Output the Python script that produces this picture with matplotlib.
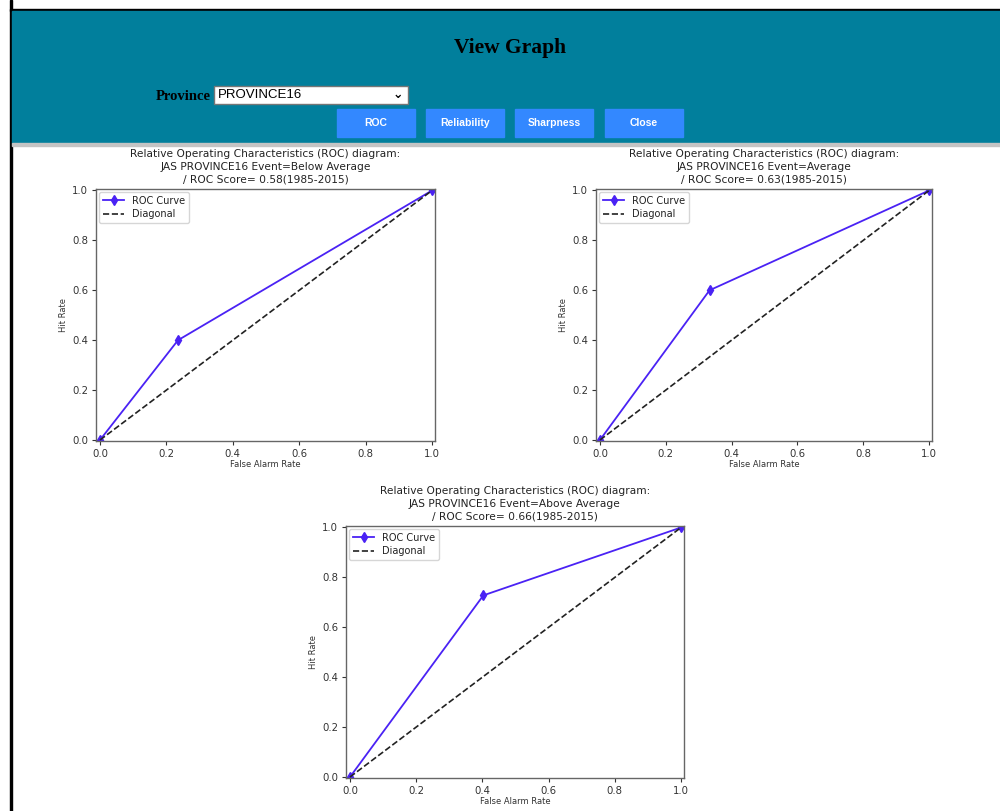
import matplotlib
matplotlib.use("Agg")
import matplotlib.pyplot as plt
from matplotlib.patches import Rectangle

# ROC points
far_below = [0.0, 0.235, 1.0]
hit_below = [0.0, 0.40, 1.0]
far_avg = [0.0, 0.333, 1.0]
hit_avg = [0.0, 0.60, 1.0]
far_above = [0.0, 0.403, 1.0]
hit_above = [0.0, 0.728, 1.0]
diag = [0.0, 1.0]

events = ["Below Average", "Average", "Above Average"]
scores = [0.58, 0.63, 0.66]
buttons = ["ROC", "Reliability", "Sharpness", "Close"]

W, H = 1000, 811
fig = plt.figure(figsize=(W / 100, H / 100), dpi=100)


def px(x0, y0, x1, y1):
    return [x0 / W, 1 - y1 / H, (x1 - x0) / W, (y1 - y0) / H]


def fx(x):
    return x / W


def fy(y):
    return 1 - y / H


# page chrome
teal = "#017f9c"
fig.patches.append(Rectangle((fx(10), fy(811)), fx(2), 811 / H, transform=fig.transFigure, color="black"))
fig.patches.append(Rectangle((fx(10), fy(11)), 1, 2 / H, transform=fig.transFigure, color="black"))
fig.patches.append(Rectangle((fx(12), fy(143)), 1, 132 / H, transform=fig.transFigure, color=teal))
fig.patches.append(Rectangle((fx(12), fy(146)), 1, 3 / H, transform=fig.transFigure, color="#c4c4c4"))

fig.text(fx(510), fy(48), "View Graph", ha="center", va="center", fontsize=15.5,
         fontweight="bold", family="Liberation Serif", color="black")
fig.text(fx(211), fy(96), "Province", ha="right", va="center", fontsize=10.5,
         fontweight="bold", family="Liberation Serif", color="black")
fig.patches.append(Rectangle((fx(214), fy(104)), 194 / W, 18 / H, transform=fig.transFigure,
                             facecolor="white", edgecolor="#767676", linewidth=1))
fig.text(fx(218), fy(95), "PROVINCE16", ha="left", va="center", fontsize=9.5,
         family="Liberation Sans", color="black")
fig.text(fx(398), fy(95), "\u2304", ha="center", va="center", fontsize=9, color="black",
         family="DejaVu Sans", fontweight="bold")

btn_x = [337, 426, 515, 605]
for bx, label in zip(btn_x, buttons):
    fig.patches.append(Rectangle((fx(bx), fy(137)), 78 / W, 28 / H, transform=fig.transFigure,
                                 color="#3388ff"))
    fig.text(fx(bx + 39), fy(123), label, ha="center", va="center", fontsize=7.5,
             fontweight="bold", family="Liberation Sans", color="white")

# ROC panels
panels = [
    (px(96, 189, 435, 441), far_below, hit_below),
    (px(596, 189, 932, 441), far_avg, hit_avg),
    (px(346, 526, 684, 778), far_above, hit_above),
]

for (rect, far, hit), ev, sc in zip(panels, events, scores):
    ax = fig.add_axes(rect)
    ax.plot(far, hit, color="#4a22f4", marker="d", markersize=5, linewidth=1.3, label="ROC Curve")
    ax.plot(diag, diag, color="#222222", linestyle="--", linewidth=1.2, label="Diagonal")
    ax.set_xlim(-0.012, 1.009)
    ax.set_ylim(-0.004, 1.006)
    ax.set_xticks([0, 0.2, 0.4, 0.6, 0.8, 1.0])
    ax.set_yticks([0, 0.2, 0.4, 0.6, 0.8, 1.0])
    ax.tick_params(labelsize=7.3, colors="#333333", length=3, width=0.8, pad=2.5)
    for s in ax.spines.values():
        s.set_color("#666666")
        s.set_linewidth(1.0)
    ax.set_xlabel("False Alarm Rate", fontsize=6, color="#333333", labelpad=1)
    ax.set_ylabel("Hit Rate", fontsize=6, color="#333333", labelpad=3)
    ax.set_title("Relative Operating Characteristics (ROC) diagram:\n"
                 f"JAS PROVINCE16 Event={ev}\n"
                 f"/ ROC Score= {sc:.2f}(1985-2015)",
                 fontsize=7.7, color="#222222", pad=4.5, linespacing=1.33)
    leg = ax.legend(loc="upper left", fontsize=7, handlelength=2.2, borderaxespad=0.3,
                    labelspacing=0.35, frameon=True)
    leg.get_frame().set_edgecolor("#cccccc")
    for t in leg.get_texts():
        t.set_color("#222222")

fig.savefig("out.png", dpi=100)
